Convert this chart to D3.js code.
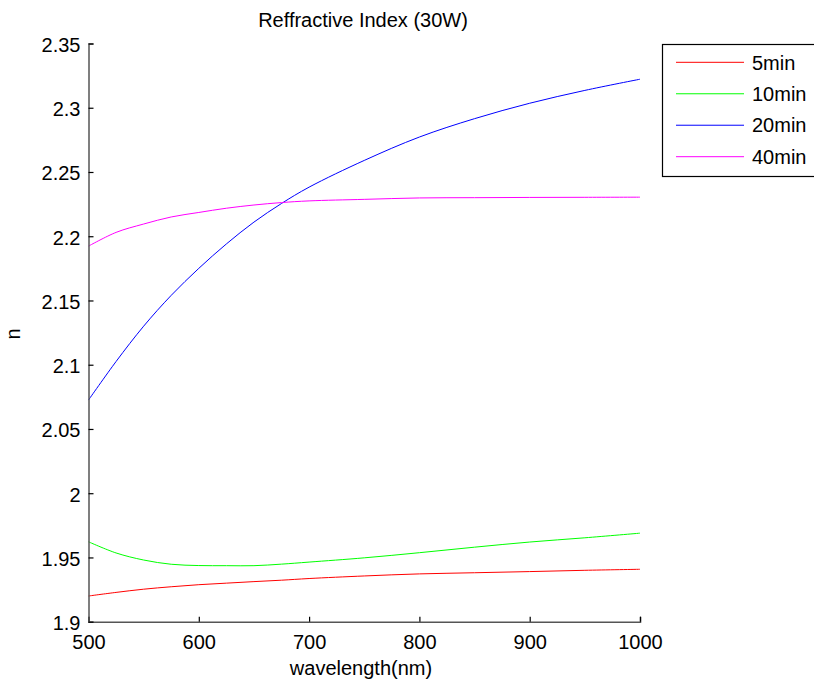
<!DOCTYPE html>
<html>
<head>
<meta charset="utf-8">
<script src="https://cdn.jsdelivr.net/npm/d3@7/dist/d3.min.js"></script>
<style>
  html, body { margin: 0; padding: 0; background: #fff; }
  svg { display: block; font-family: Arial, "Liberation Sans", sans-serif; }
</style>
</head>
<body>
<svg id="chart" width="814" height="685"></svg>
<script>
// Wavelength samples (nm)
const wavelength = [500, 525, 550, 575, 600, 625, 650, 675, 700, 750, 800, 850, 900, 950, 1000];

// Refractive index per deposition time
const n5min  = [1.9200, 1.9228, 1.9253, 1.9272, 1.9288, 1.9300, 1.9312, 1.9323, 1.9336, 1.9356, 1.9372, 1.9381, 1.9390, 1.9400, 1.9408];
const n10min = [1.9622, 1.9535, 1.9480, 1.9447, 1.9437, 1.9436, 1.9436, 1.9448, 1.9464, 1.9497, 1.9537, 1.9580, 1.9620, 1.9653, 1.9689];
const n20min = [2.0725, 2.1025, 2.1300, 2.1540, 2.1750, 2.1940, 2.2110, 2.2255, 2.2382, 2.2590, 2.2772, 2.2915, 2.3035, 2.3135, 2.3222];
const n40min = [2.1923, 2.2030, 2.2095, 2.2150, 2.2185, 2.2218, 2.2243, 2.2262, 2.2275, 2.2287, 2.2298, 2.2300, 2.2302, 2.2303, 2.2304];

const seriesNames  = ["5min", "10min", "20min", "40min"];
const seriesColors = ["#ff0000", "#00ff00", "#0000ff", "#ff00ff"];
const seriesValues = [n5min, n10min, n20min, n40min];

const xTicks = [500, 600, 700, 800, 900, 1000];
const yTicks = [1.9, 1.95, 2.0, 2.05, 2.1, 2.15, 2.2, 2.25, 2.3, 2.35];
const yTickLabels = ["1.9", "1.95", "2", "2.05", "2.1", "2.15", "2.2", "2.25", "2.3", "2.35"];

const titleText = "Reffractive Index (30W)";
const xLabelText = "wavelength(nm)";
const yLabelText = "n";

const svg = d3.select("#chart");
const W = 814, H = 685;
const margin = { left: 88.5, right: W - 640, top: 43.5, bottom: H - 621.7 };

svg.append("rect").attr("width", W).attr("height", H).attr("fill", "#fff");

const x = d3.scaleLinear().domain([500, 1000]).range([margin.left, W - margin.right]);
const y = d3.scaleLinear().domain([1.9, 2.35]).range([H - margin.bottom, margin.top]);

// Data lines
const line = d3.line()
  .x(d => x(d[0]))
  .y(d => y(d[1]))
  .curve(d3.curveCatmullRom.alpha(0.5));

seriesValues.forEach((vals, i) => {
  svg.append("path")
    .datum(wavelength.map((w, k) => [w, vals[k]]))
    .attr("fill", "none")
    .attr("stroke", seriesColors[i])
    .attr("stroke-width", 1)
    .attr("d", line);
});

// Axes (ticks point inward)
const xAxis = d3.axisBottom(x).tickValues(xTicks).tickSize(-5).tickPadding(13).tickFormat(d3.format("d"));
const yAxis = d3.axisLeft(y).tickValues(yTicks).tickSize(-5).tickPadding(8)
  .tickFormat((d, i) => yTickLabels[i]);

const gx = svg.append("g").attr("transform", `translate(0,${y(1.9)})`).call(xAxis);
const gy = svg.append("g").attr("transform", `translate(${x(500)},0)`).call(yAxis);

[gx, gy].forEach(g => {
  g.select(".domain").attr("stroke", "#555").attr("stroke-width", 1.5);
  g.selectAll(".tick line").attr("stroke", "#000").attr("stroke-width", 1.2);
  g.selectAll(".tick text").attr("fill", "#000").attr("font-size", 20)
    .attr("font-family", "Arial, 'Liberation Sans', sans-serif");
});
gy.selectAll(".tick text").attr("dy", "0.4em");

// Title and axis labels
svg.append("text")
  .attr("x", 363).attr("y", 27)
  .attr("text-anchor", "middle")
  .attr("font-size", 20)
  .text(titleText);

svg.append("text")
  .attr("x", 361).attr("y", 675)
  .attr("text-anchor", "middle")
  .attr("font-size", 20)
  .text(xLabelText);

svg.append("text")
  .attr("transform", "translate(20,334) rotate(-90)")
  .attr("text-anchor", "middle")
  .attr("font-size", 20)
  .text(yLabelText);

// Legend
const legend = svg.append("g");
legend.append("rect")
  .attr("x", 662.5).attr("y", 44.5)
  .attr("width", 170).attr("height", 132)
  .attr("fill", "#fff")
  .attr("stroke", "#000").attr("stroke-width", 1.2);

const legendY = d3.scalePoint().domain(seriesNames).range([62.3, 156.7]);
seriesNames.forEach((name, i) => {
  const ly = legendY(name);
  legend.append("line")
    .attr("x1", 676).attr("x2", 744)
    .attr("y1", ly).attr("y2", ly)
    .attr("stroke", seriesColors[i]).attr("stroke-width", 1);
  legend.append("text")
    .attr("x", 752).attr("y", ly)
    .attr("dy", "0.36em")
    .attr("font-size", 20)
    .text(name);
});
</script>
</body>
</html>
